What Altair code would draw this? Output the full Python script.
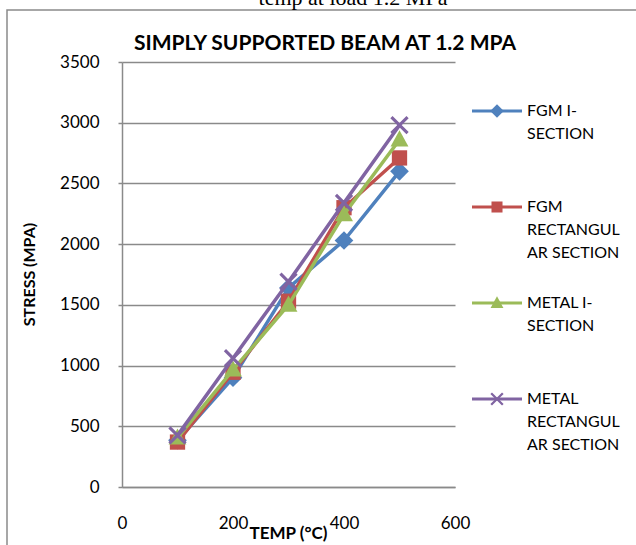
import altair as alt
import pandas as pd

# ---- data ----
temps = [100, 200, 300, 400, 500]
series_names = ["FGM I-SECTION", "FGM RECTANGULAR SECTION",
                "METAL I-SECTION", "METAL RECTANGULAR SECTION"]
fgm_i = [385, 900, 1640, 2030, 2600]
fgm_rect = [370, 945, 1530, 2300, 2710]
metal_i = [405, 965, 1500, 2245, 2860]
metal_rect = [425, 1060, 1690, 2340, 2980]
legend_labels = ["FGM I-|SECTION", "FGM|RECTANGUL|AR SECTION",
                 "METAL I-|SECTION", "METAL|RECTANGUL|AR SECTION"]
x_ticks = [0, 200, 400, 600]
y_ticks = [0, 500, 1000, 1500, 2000, 2500, 3000, 3500]

colors = ["#4F81BD", "#C0504D", "#9BBB59", "#8064A2"]
diamond = "M0,-1.1L1.1,0L0,1.1L-1.1,0Z"
square = "M-0.9,-0.9H0.9V0.9H-0.9Z"
triangle = "M0,-1.1L1.05,0.8L-1.05,0.8Z"
xmark = ("M-1.08,-0.82L-0.82,-1.08L1.08,0.82L0.82,1.08Z"
         "M-0.82,1.08L-1.08,0.82L0.82,-1.08L1.08,-0.82Z")
shapes = [diamond, square, triangle, xmark]

rows = []
for name, vals in zip(series_names, [fgm_i, fgm_rect, metal_i, metal_rect]):
    for t, v in zip(temps, vals):
        rows.append({"series": name, "temp": t, "stress": v})
df = pd.DataFrame(rows)
legend_df = pd.DataFrame({"series": series_names, "label": legend_labels})
one = pd.DataFrame({"a": [0]})

FONT = "Lato"
GRAY = "#8a8a8a"

x_enc = alt.X("temp:Q", scale=alt.Scale(domain=[0, 600], nice=False),
              axis=alt.Axis(values=x_ticks, grid=False, ticks=False, labelFlush=False,
                            domainColor=GRAY, domainWidth=1.5, labelPadding=28,
                            labelFont=FONT, labelFontSize=17, labelColor="black",
                            title="TEMP (°C)", titleFont=FONT, titleFontSize=17,
                            titleFontWeight="bold", titleColor="black",
                            titleX=166, titleY=46, titleBaseline="middle"))
y_enc = alt.Y("stress:Q", scale=alt.Scale(domain=[0, 3500], nice=False),
              axis=alt.Axis(values=y_ticks, format="d", grid=True, gridColor=GRAY,
                            gridWidth=1.5, domainColor=GRAY, domainWidth=1.5,
                            tickColor=GRAY, tickSize=4, tickWidth=1.5, labelPadding=19,
                            labelFont=FONT, labelFontSize=17, labelColor="black",
                            title="STRESS (MPA)", titleFont=FONT, titleFontSize=16,
                            titleFontWeight="bold", titleColor="black",
                            titleX=-93, titleY=212, titleBaseline="middle",
                            titleAlign="center"))
color_enc = alt.Color("series:N", scale=alt.Scale(domain=series_names, range=colors),
                      legend=None)
shape_enc = alt.Shape("series:N", scale=alt.Scale(domain=series_names, range=shapes),
                      legend=None)

layers = []
for name in series_names:
    base = alt.Chart(df).transform_filter(alt.datum.series == name)
    layers.append(base.mark_line(strokeWidth=3.5, strokeJoin="round", strokeCap="round")
                  .encode(x=x_enc, y=y_enc, color=color_enc))
    layers.append(base.mark_point(filled=True, size=289, opacity=1, strokeWidth=0)
                  .encode(x=x_enc, y=y_enc, color=color_enc, shape=shape_enc))
data_chart = alt.layer(*layers)

leg_y = alt.Y("series:N", scale=alt.Scale(domain=series_names, range=[1, 385]),
              axis=None)
leg = alt.Chart(legend_df)
legend_chart = alt.layer(
    leg.mark_rule(strokeWidth=3).encode(x=alt.value(350), x2=alt.value(400),
                                        y=leg_y, color=color_enc),
    leg.mark_point(filled=True, size=150, opacity=1, strokeWidth=0).encode(
        x=alt.value(375), y=leg_y, color=color_enc, shape=shape_enc),
    leg.mark_text(align="left", baseline="middle", lineBreak="|", lineHeight=23,
                  font=FONT, fontSize=16, color="black").encode(
        x=alt.value(405), y=leg_y, text="label:N"),
)

border = alt.Chart(one).mark_rect(fill="transparent", stroke=GRAY, strokeWidth=1.5).encode(
    x=alt.value(-115), x2=alt.value(600), y=alt.value(-52), y2=alt.value(600))
caption = alt.Chart(one).mark_text(text="temp at load 1.2 MPa", font="Liberation Serif",
                                   fontSize=22, align="center", baseline="alphabetic",
                                   color="black").encode(x=alt.value(231), y=alt.value(-57.5))
title = alt.Chart(one).mark_text(text="SIMPLY SUPPORTED BEAM AT 1.2 MPA", font=FONT,
                                 fontSize=21, fontWeight="bold", align="center",
                                 baseline="alphabetic", color="black").encode(
    x=alt.value(203), y=alt.value(-12))

chart = alt.layer(border, caption, title, data_chart, legend_chart).resolve_scale(
    y="independent"
).properties(
    width=333, height=425,
    autosize=alt.AutoSizeParams(type="none"),
    padding={"left": 122, "top": 62, "right": 181, "bottom": 58},
    background="white",
).configure_view(strokeWidth=0)

chart.save("out.html", embed_options={"renderer": "svg", "actions": False})
